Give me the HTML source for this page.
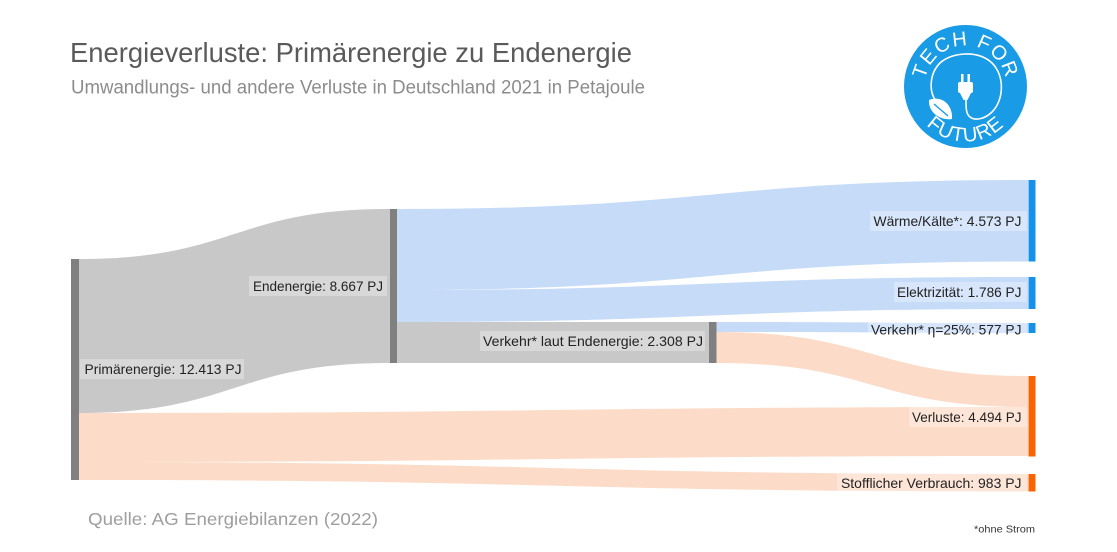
<!DOCTYPE html>
<html>
<head>
<meta charset="utf-8">
<style>
  html,body{margin:0;padding:0;background:#fff;}
  svg{display:block;}
  .lbl{font-family:"Liberation Sans",sans-serif;font-size:14px;fill:#222222;}
</style>
</head>
<body>
<svg width="1117" height="552" viewBox="0 0 1117 552" xmlns="http://www.w3.org/2000/svg">
  <rect width="1117" height="552" fill="#ffffff"/>

  <!-- Titles -->
  <text x="70" y="62" font-family="Liberation Sans, sans-serif" font-size="28" fill="#5a5a5a" textLength="562" lengthAdjust="spacingAndGlyphs">Energieverluste: Primärenergie zu Endenergie</text>
  <text x="71" y="93.5" font-family="Liberation Sans, sans-serif" font-size="19" fill="#8c8c8c" textLength="574" lengthAdjust="spacingAndGlyphs">Umwandlungs- und andere Verluste in Deutschland 2021 in Petajoule</text>

  <!-- Flows -->
  <path d="M79,259 C234.5,259 234.5,209 390,209 L390,363 C234.5,363 234.5,413 79,413 Z" fill="#c8c8c8"/>
  <path d="M79,413 C553.5,413 553.5,407 1028,407 L1028,456 C553.5,456 553.5,462 79,462 Z" fill="#fcdcc8"/>
  <path d="M79,462 C553.5,462 553.5,474 1028,474 L1028,491.5 C553.5,491.5 553.5,480 79,480 Z" fill="#fcdcc8"/>
  <path d="M397,209 C712.5,209 712.5,180 1028,180 L1028,261.5 C712.5,261.5 712.5,290 397,290 Z" fill="#c6dbf8"/>
  <path d="M397,290 C712.5,290 712.5,277 1028,277 L1028,309 C712.5,309 712.5,322 397,322 Z" fill="#c6dbf8"/>
  <path d="M397,322 L709,322 L709,363 L397,363 Z" fill="#c8c8c8"/>
  <path d="M716.5,322 C872.5,322 872.5,323 1028,323 L1028,333 C872.5,333 872.5,332 716.5,332 Z" fill="#c6dbf8"/>
  <path d="M716.5,332 C872.5,332 872.5,376 1028,376 L1028,407 C872.5,407 872.5,363 716.5,363 Z" fill="#fcdcc8"/>

  <!-- Nodes -->
  <rect x="71" y="259" width="8" height="221" fill="#808080"/>
  <rect x="390" y="209" width="7" height="154" fill="#808080"/>
  <rect x="709" y="322" width="7.5" height="41" fill="#808080"/>
  <rect x="1028.5" y="180" width="7" height="81.5" fill="#1591ec"/>
  <rect x="1028.5" y="277" width="7" height="32" fill="#1591ec"/>
  <rect x="1028.5" y="323" width="7" height="10" fill="#1591ec"/>
  <rect x="1028.5" y="376" width="7" height="80.5" fill="#fa6400"/>
  <rect x="1028.5" y="474" width="7" height="17.5" fill="#fa6400"/>

  <!-- Label boxes -->
  <g fill="#ffffff" fill-opacity="0.3">
    <rect x="80" y="359" width="164" height="20"/>
    <rect x="249" y="276" width="138" height="20"/>
    <rect x="480" y="331" width="225" height="20"/>
    <rect x="870" y="211" width="157" height="20"/>
    <rect x="894" y="282" width="133" height="20"/>
    <rect x="868" y="319.5" width="159" height="20"/>
    <rect x="909" y="407" width="118" height="20"/>
    <rect x="837" y="473" width="190" height="20"/>
  </g>

  <!-- Labels -->
  <text class="lbl" x="84.5" y="374" textLength="157" lengthAdjust="spacingAndGlyphs">Primärenergie: 12.413 PJ</text>
  <text class="lbl" x="253" y="291" textLength="130" lengthAdjust="spacingAndGlyphs">Endenergie: 8.667 PJ</text>
  <text class="lbl" x="483" y="346" textLength="220" lengthAdjust="spacingAndGlyphs">Verkehr* laut Endenergie: 2.308 PJ</text>
  <text class="lbl" x="873.5" y="226" textLength="148" lengthAdjust="spacingAndGlyphs">Wärme/Kälte*: 4.573 PJ</text>
  <text class="lbl" x="897" y="297" textLength="124.5" lengthAdjust="spacingAndGlyphs">Elektrizität: 1.786 PJ</text>
  <text class="lbl" x="871" y="334.5" textLength="150.5" lengthAdjust="spacingAndGlyphs">Verkehr* η=25%: 577 PJ</text>
  <text class="lbl" x="912" y="422" textLength="109.5" lengthAdjust="spacingAndGlyphs">Verluste: 4.494 PJ</text>
  <text class="lbl" x="841" y="488" textLength="180.5" lengthAdjust="spacingAndGlyphs">Stofflicher Verbrauch: 983 PJ</text>

  <!-- Source & footnote -->
  <text x="88" y="525" font-family="Liberation Sans, sans-serif" font-size="17.5" fill="#9e9e9e" textLength="290" lengthAdjust="spacingAndGlyphs">Quelle: AG Energiebilanzen (2022)</text>
  <text x="974" y="532.5" font-family="Liberation Sans, sans-serif" font-size="10.5" fill="#333333" textLength="61" lengthAdjust="spacingAndGlyphs">*ohne Strom</text>

  <!-- Logo -->
  <g>
    <circle cx="965.5" cy="86.5" r="61.5" fill="#1a9be6"/>
    <defs>
      <path id="topArc" d="M924.5,86.5 A41,41 0 0 1 1006.5,86.5"/>
      <path id="botArc" d="M910.5,86.5 A55,55 0 0 0 1020.5,86.5"/>
    </defs>
    <text font-family="Liberation Sans, sans-serif" font-size="20" fill="#ffffff" letter-spacing="1.5">
      <textPath href="#topArc" startOffset="50%" text-anchor="middle">TECH FOR</textPath>
    </text>
    <text font-family="Liberation Sans, sans-serif" font-size="20" fill="#ffffff" letter-spacing="1">
      <textPath href="#botArc" startOffset="50%" text-anchor="middle">FUTURE</textPath>
    </text>
    <!-- cable loop -->
    <path d="M936,101 C929,92 929,74 940,63 C952,52 978,50 992,63 C1005,76 1004,100 992,112 C985,119 975,121 970,117 C966,114 966,108 966,100" fill="none" stroke="#ffffff" stroke-width="1.6"/>
    <!-- plug -->
    <rect x="958" y="82" width="15" height="11" rx="2" fill="#ffffff"/>
    <rect x="961" y="74" width="2.5" height="9" fill="#ffffff"/>
    <rect x="967.5" y="74" width="2.5" height="9" fill="#ffffff"/>
    <path d="M960,93 L971,93 L967.5,100 L963.5,100 Z" fill="#ffffff"/>
    <!-- leaf -->
    <path d="M929,100 C941,95 953,104 952,119 C940,121 928,112 929,100 Z" fill="#ffffff"/>
    <path d="M934,104 L948,116" stroke="#1a9be6" stroke-width="1.4"/>
  </g>
</svg>
</body>
</html>
